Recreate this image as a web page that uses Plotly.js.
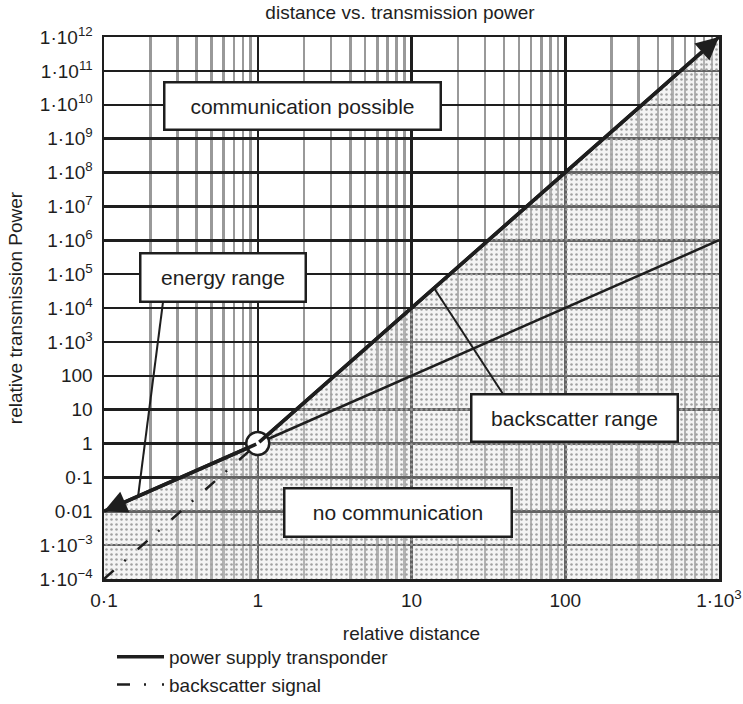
<!DOCTYPE html>
<html>
<head>
<meta charset="utf-8">
<script src="https://cdn.plot.ly/plotly-3.0.1.min.js"></script>
<style>html,body{margin:0;padding:0;background:#fff;}#chart{width:743px;height:704px;}</style>
</head>
<body>
<div id="chart"></div>
<script>
// ---- data ----
const distance = [0.1, 1, 1000];
const powerSupply = [0.01, 1, 1e12];
const backscatterDistance = [0.1, 1, 1000];
const backscatter = [1e-4, 1, 1e6];
const xTickVals = [0.1, 1, 10, 100, 1000];
const xTickText = ['0·1', '1', '10', '100', '1·10<sup>3</sup>'];
const yTickVals = [1e12, 1e11, 1e10, 1e9, 1e8, 1e7, 1e6, 1e5, 1e4, 1e3, 100, 10, 1, 0.1, 0.01, 1e-3, 1e-4];
const yTickText = ['1·10<sup>12</sup>', '1·10<sup>11</sup>', '1·10<sup>10</sup>', '1·10<sup>9</sup>', '1·10<sup>8</sup>',
  '1·10<sup>7</sup>', '1·10<sup>6</sup>', '1·10<sup>5</sup>', '1·10<sup>4</sup>', '1·10<sup>3</sup>',
  '100', '10', '1', '0·1', '0·01', '1·10<sup>−3</sup>', '1·10<sup>−4</sup>'];
const regionLabels = ['communication possible', 'energy range', 'backscatter range', 'no communication'];

// ---- layout helpers ----
const W = 743, H = 704, M = {l: 104, r: 24, t: 37, b: 125, autoexpand: false};
const PW = W - M.l - M.r, PH = H - M.t - M.b;
const px = x => (x - M.l) / PW;
const py = y => (H - M.b - y) / PH;
const xRange = [Math.log10(xTickVals[0]), Math.log10(xTickVals[xTickVals.length - 1])];
const yRange = [Math.log10(yTickVals[yTickVals.length - 1]), Math.log10(yTickVals[0])];
const floorY = Math.pow(10, yRange[0]);

const minorVals = [];
for (let e = xRange[0]; e < xRange[1]; e++) {
  for (let k = 2; k <= 9; k++) minorVals.push(k * Math.pow(10, e));
}

const ink = '#1e1e1e';
const font = 'Liberation Sans, Arial, Helvetica, sans-serif';
const bsDash = '13px,14px,2px,16px';

const traces = [
  { // shaded region below the power supply line
    x: distance.concat([distance[distance.length - 1], distance[0]]),
    y: powerSupply.concat([floorY, floorY]),
    mode: 'lines', fill: 'toself', line: {width: 0},
    fillcolor: 'rgba(215,215,215,0.35)',
    fillpattern: {shape: '.', fgcolor: '#a0a0a0', bgcolor: 'rgba(222,222,222,0.35)', size: 5, solidity: 0.2},
    showlegend: false, hoverinfo: 'skip'
  },
  {
    x: distance, y: powerSupply, mode: 'lines', name: 'power supply transponder',
    line: {color: ink, width: 3.5}, legendgroup: 'a'
  },
  {
    x: backscatterDistance.slice(0, 2), y: backscatter.slice(0, 2), mode: 'lines', name: 'backscatter signal',
    line: {color: ink, width: 2.5, dash: bsDash}, legendgroup: 'b'
  },
  {
    x: backscatterDistance.slice(1), y: backscatter.slice(1), mode: 'lines', showlegend: false,
    line: {color: ink, width: 2.5}
  },
  {
    x: [distance[1]], y: [powerSupply[1]], mode: 'markers', showlegend: false, cliponaxis: false,
    marker: {size: 23, color: '#fff', line: {color: ink, width: 2.5}}
  }
];

const L = v => Math.log10(v);
const boxes = [
  {cx: 302, cy: 106, w: 274, h: 45},
  {cx: 222.5, cy: 277, w: 163, h: 46},
  {cx: 574, cy: 418, w: 204, h: 45},
  {cx: 397.5, cy: 512, w: 225, h: 46}
];
const annotations = boxes.map((b, i) => ({
  xref: 'paper', yref: 'paper', x: px(b.cx), y: py(b.cy), xanchor: 'center', yanchor: 'middle',
  text: regionLabels[i], showarrow: false, width: b.w, height: b.h,
  bgcolor: '#fff', bordercolor: ink, borderwidth: 2.5, borderpad: 0,
  font: {family: font, size: 21, color: ink}
}));
// arrowheads at both ends of the power supply line
[[0, 1], [2, 1]].forEach(([tip, tail]) => {
  annotations.push({
    x: L(distance[tip]), y: L(powerSupply[tip]), ax: L(distance[tail]), ay: L(powerSupply[tail]),
    xref: 'x', yref: 'y', axref: 'x', ayref: 'y', text: '', showarrow: true,
    arrowhead: 2, arrowsize: 1.3, arrowwidth: 3.5, arrowcolor: ink, standoff: 0
  });
});

const shapes = [
  {type: 'line', xref: 'paper', yref: 'paper', x0: px(163), y0: py(302), x1: px(138), y1: py(497), line: {color: ink, width: 2}},
  {type: 'line', xref: 'paper', yref: 'paper', x0: px(434), y0: py(288), x1: px(503), y1: py(394), line: {color: ink, width: 2}}
];

const layout = {
  width: W, height: H, margin: M,
  paper_bgcolor: '#fff', plot_bgcolor: '#fff',
  font: {family: font, size: 19, color: ink},
  title: {text: 'distance vs. transmission power', x: 400 / W, xanchor: 'center', y: 1 - 12 / H, yanchor: 'middle',
    font: {family: font, size: 19, color: ink}},
  xaxis: {
    type: 'log', range: xRange, tickmode: 'array', tickvals: xTickVals, ticktext: xTickText,
    showgrid: true, gridcolor: ink, gridwidth: 2.5,
    minor: {tickmode: 'array', tickvals: minorVals, showgrid: true, gridcolor: '#999', gridwidth: 2.5, ticks: ''},
    showline: true, mirror: true, linecolor: ink, linewidth: 2.5,
    ticks: 'outside', ticklen: 3, tickcolor: 'rgba(0,0,0,0)', tickfont: {size: 19},
    title: {text: 'relative distance', standoff: 17, font: {size: 19}}, automargin: false, zeroline: false
  },
  yaxis: {
    type: 'log', range: yRange, tickmode: 'array', tickvals: yTickVals, ticktext: yTickText,
    showgrid: true, gridcolor: ink, gridwidth: 2.5,
    showline: true, mirror: true, linecolor: ink, linewidth: 2.5,
    ticks: 'outside', ticklen: 5, tickcolor: 'rgba(0,0,0,0)', tickfont: {size: 19},
    title: {text: 'relative transmission Power', standoff: 12, font: {size: 19}}, automargin: false, zeroline: false
  },
  legend: {x: px(112), y: py(638), xanchor: 'left', yanchor: 'top', orientation: 'v',
    font: {size: 19}, tracegroupgap: 0, itemwidth: 47, bgcolor: 'rgba(0,0,0,0)'},
  annotations: annotations,
  shapes: shapes,
  showlegend: true
};

Plotly.newPlot('chart', traces, layout, {displayModeBar: false, staticPlot: true});
</script>
</body>
</html>
